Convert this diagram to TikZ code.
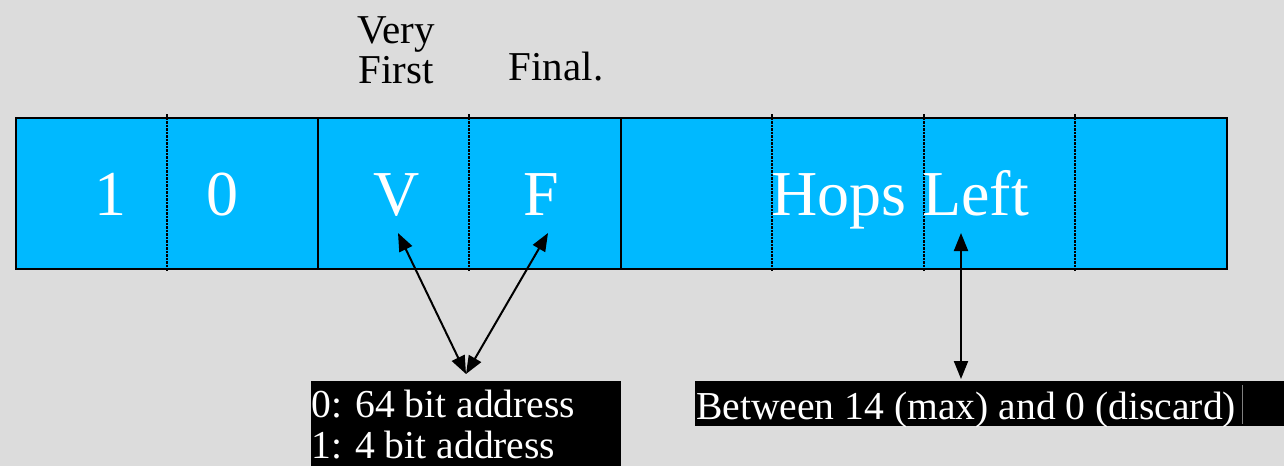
\documentclass[tikz,border=0pt]{standalone}
\usepackage{fontspec}
\setmainfont{Liberation Serif}
\usetikzlibrary{arrows.meta}
\definecolor{bg}{HTML}{DCDCDC}
\definecolor{cellblue}{HTML}{00B9FF}
\begin{document}
\begin{tikzpicture}[x=1pt,y=-1pt,
  celltext/.style={text=white,inner sep=0pt,anchor=base,font=\fontsize{64}{64}\selectfont},
  toplabel/.style={text=black,inner sep=0pt,font=\fontsize{41}{41}\selectfont},
  boxtext/.style={text=white,inner sep=0pt,anchor=base west,font=\fontsize{39.6}{42}\selectfont},
  dotdiv/.style={line width=2pt,dash pattern=on 2.5pt off 1pt},
  soliddiv/.style={line width=1.6pt},
  pointer/.style={line width=2pt,{Triangle[length=18pt,width=14pt]}-{Triangle[length=18pt,width=14pt]}}
]
\fill[bg] (0,0) rectangle (1284,466);
\useasboundingbox (0,0) rectangle (1284,466);
% main field box
\node[draw=black,line width=2pt,fill=cellblue,minimum width=1211pt,minimum height=151pt,inner sep=0pt,anchor=north west] (field) at (15,117) {};
% dividers
\draw[dotdiv] (167,114) -- (167,271);
\draw[soliddiv] (318,117) -- (318,268);
\draw[dotdiv] (469,114) -- (469,271);
\draw[soliddiv] (621,117) -- (621,268);
\draw[dotdiv] (772,114) -- (772,271);
\draw[dotdiv] (924,114) -- (924,271);
\draw[dotdiv] (1075,114) -- (1075,271);
% cell texts
\node[celltext] (one) at (110,215) {1};
\node[celltext] (zero) at (222,215) {0};
\node[celltext] (vbit) at (397,215) {V};
\node[celltext] (fbit) at (541,215) {F};
\node[celltext,anchor=base west] (hops) at (771,215) {Hops Left};
% top labels
\node[toplabel,align=center,anchor=base,font=\fontsize{41}{40}\selectfont] (veryfirst) at (396,83) {Very\\First};
\node[toplabel,anchor=base] (final) at (556,80) {Final.};
% black boxes
\fill[black] (311,381) rectangle (621,466);
\node[boxtext] (addr1) at (311,417) {0: 64 bit address};
\node[boxtext] (addr2) at (311,458) {1: 4 bit address};
\fill[black] (695,381) rectangle (1284,426);
\node[boxtext] (between) at (696,419) {Between 14 (max) and 0 (discard)};
\draw[gray,line width=1pt] (1242,385) -- (1242,424);
% connectors
\coordinate (vtip) at (398,233);
\coordinate (ftip) at (548,233);
\coordinate (join) at (466,374);
\coordinate (htop) at (961,233);
\coordinate (hbot) at (961,379);
\draw[pointer] (vtip) -- (join);
\draw[pointer] (ftip) -- (join);
\draw[pointer] (htop) -- (hbot);
\end{tikzpicture}
\end{document}
